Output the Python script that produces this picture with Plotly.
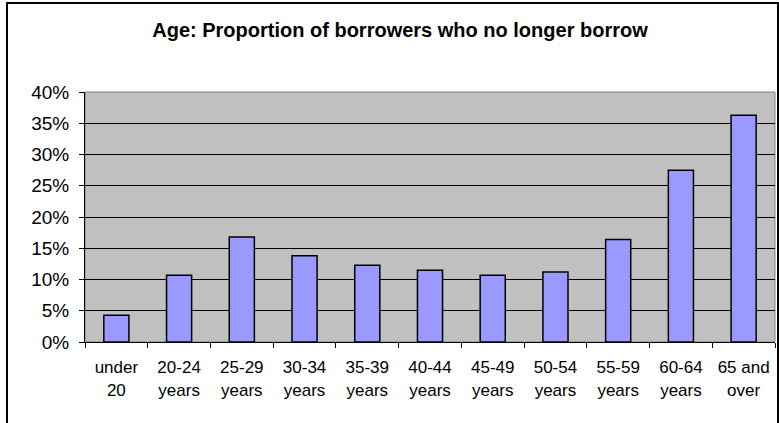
import plotly.graph_objects as go

categories = ["under<br>20", "20-24<br>years", "25-29<br>years", "30-34<br>years", "35-39<br>years",
              "40-44<br>years", "45-49<br>years", "50-54<br>years", "55-59<br>years", "60-64<br>years",
              "65 and<br>over"]
proportions = [0.043, 0.107, 0.168, 0.138, 0.123, 0.115, 0.107, 0.112, 0.164, 0.275, 0.363]
title_text = "Age: Proportion of borrowers who no longer borrow"

FONT = "Liberation Sans, Arial, sans-serif"

fig = go.Figure(go.Bar(
    x=categories, y=proportions,
    marker=dict(color="#9999FF", line=dict(color="#000000", width=1.5)),
    width=0.4,
))

W, H = 779, 423
L, R, T, B = 85, 4, 92, 81
pw, ph = W - L - R, H - T - B

def px_to_paper_x(px):
    return (px - L) / pw

def px_to_paper_y(py):
    return (H - B - py) / ph

fig.update_layout(
    width=W, height=H,
    margin=dict(l=L, r=R, t=T, b=B, autoexpand=False),
    paper_bgcolor="white",
    plot_bgcolor="#C0C0C0",
    showlegend=False,
    font=dict(family=FONT, size=17, color="#000000"),
    title=dict(text="<b>" + title_text + "</b>", x=400 / W, xref="container", xanchor="center",
               y=1 - 30 / H, yref="container", yanchor="middle",
               font=dict(family=FONT, size=20, color="#000000")),
    shapes=[
        dict(type="rect", xref="paper", yref="paper", x0=0, x1=1, y0=0, y1=1,
             line=dict(color="#808080", width=1), layer="below"),
        dict(type="rect", xref="paper", yref="paper",
             x0=px_to_paper_x(7), x1=px_to_paper_x(778),
             y0=px_to_paper_y(440), y1=px_to_paper_y(3),
             line=dict(color="#000000", width=2)),
    ],
)

fig.update_xaxes(
    type="category",
    showline=True, linecolor="#000000", linewidth=1,
    ticks="outside", tickson="boundaries", ticklen=5, tickcolor="#000000",
    showgrid=False,
    tickfont=dict(family=FONT, size=17, color="#000000"),
    ticklabelstandoff=10,
)
fig.update_yaxes(
    range=[0, 0.4], dtick=0.05, tickformat=".0%",
    showline=True, linecolor="#000000", linewidth=1,
    ticks="outside", ticklen=5, tickcolor="#000000",
    showgrid=True, gridcolor="#000000", gridwidth=1,
    zeroline=False,
    tickfont=dict(family=FONT, size=19, color="#000000"),
    ticklabelstandoff=6,
)

fig.write_html("out.html",
               config={"displayModeBar": False},
               post_script="document.body.style.margin='0';document.body.style.overflow='hidden';")
